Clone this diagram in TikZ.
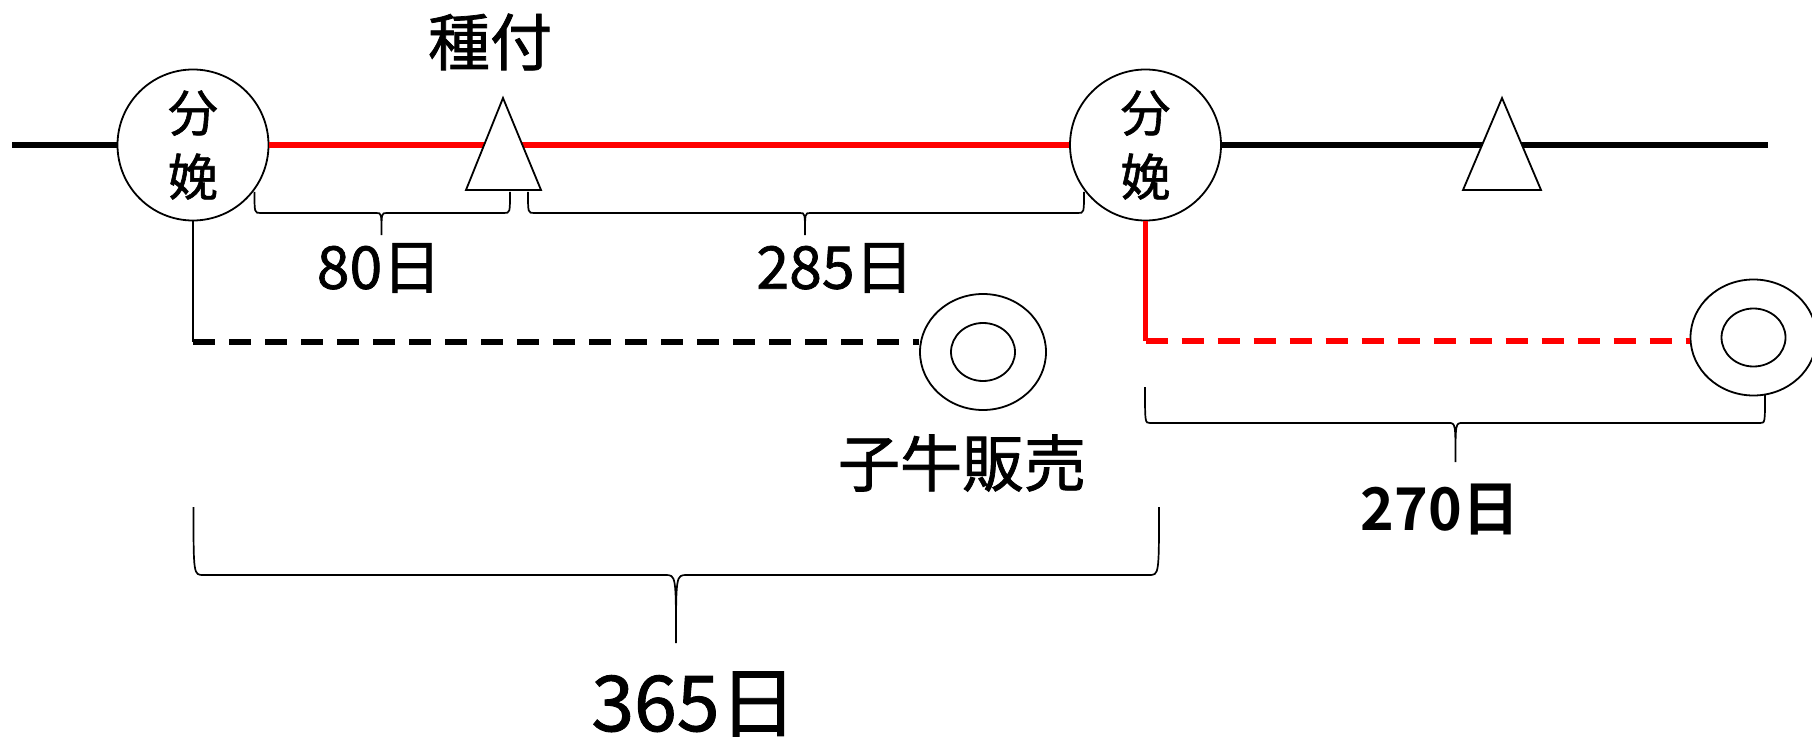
\documentclass[tikz,border=0pt]{standalone}
\usepackage{fontspec}
\newfontfamily\cjk{Noto Sans CJK JP}[FakeBold=1.2]
\newfontfamily\cjkbold{Noto Sans CJK JP Bold}
\usetikzlibrary{shapes.geometric}
\newcommand\mybrace[9]{%
  \draw[bracel] (#1,#2) .. controls (#1,#5) and (#1,#5) .. (#1+#8,#5)
    -- (#6-#9,#5) .. controls (#6,#5) and (#6,#5) .. (#6,#7)
    .. controls (#6,#5) and (#6,#5) .. (#6+#9,#5)
    -- (#3-#8,#5) .. controls (#3,#5) and (#3,#5) .. (#3,#4);}
\tikzset{
  birth/.style={circle, draw, line width=1.8pt, fill=white, minimum size=151pt, inner sep=0pt, align=center, font=\cjk\fontsize{50}{64}\selectfont},
  calfout/.style={ellipse, draw, line width=1.8pt, fill=white, minimum width=126pt, minimum height=116pt, inner sep=0pt},
  calfin/.style={ellipse, draw, line width=1.8pt, minimum width=64pt, minimum height=58pt, inner sep=0pt},
  mainline/.style={line width=5.5pt},
  redline/.style={mainline, draw=red},
  thinline/.style={line width=1.7pt},
  dashline/.style={line width=5.5pt, dash pattern=on 22pt off 14pt},
  tri/.style={draw, line width=1.8pt, fill=white, line join=miter},
  bracel/.style={line width=1.7pt},
  lbl/.style={inner sep=0pt, font=\cjk\fontsize{62}{64}\selectfont},
  numlbl/.style={inner sep=0pt, font=\cjk\fontsize{59}{60}\selectfont},
  boldlbl/.style={inner sep=0pt, font=\cjkbold\fontsize{59}{60}\selectfont},
  biglbl/.style={inner sep=0pt, font=\cjk\fontsize{77}{80}\selectfont},
}
\begin{document}
\begin{tikzpicture}[x=1pt,y=-1pt]
\useasboundingbox (0,0) rectangle (1812,738);
\clip (0,0) rectangle (1812,738);
% birth circles
\node[birth] (c1) at (193,145) {分\\娩};
\node[birth] (c2) at (1145.5,145) {分\\娩};
% end points / joins
\coordinate (l0) at (12,145);
\coordinate (r0) at (1768,145);
\coordinate (jl) at (193,342);
\coordinate (jr) at (1145.5,341);
% calf sale circles
\node[calfout] (s1) at (983,352) {};
\node[calfin] (s1i) at (983,352) {};
\node[calfout] (s2) at (1753.5,337.5) {};
\node[calfin] (s2i) at (1753.5,337.5) {};
% main timeline
\draw[mainline] (l0) -- (c1.west);
\draw[redline] (c1.east) -- (c2.west);
\draw[mainline] (c2.east) -- (r0);
% triangles (mating)
\coordinate (t1a) at (503,98); \coordinate (t1b) at (466,190); \coordinate (t1c) at (541,190);
\coordinate (t2a) at (1502,98); \coordinate (t2b) at (1463,190); \coordinate (t2c) at (1541,190);
\path[tri] (t1a) -- (t1b) -- (t1c) -- cycle;
\path[tri] (t2a) -- (t2b) -- (t2c) -- cycle;
% calf lines
\draw[thinline] (c1.south) -- (jl);
\draw[dashline] (jl) -- (jl -| s1.west);
\draw[line width=5pt, red] (c2.south) -- (jr);
\draw[dashline, red] (jr) -- (jr -| s2.west);
% braces
\mybrace{254.5}{192}{510}{192}{213}{381.5}{235}{6}{5}
\mybrace{528}{192}{1084}{192}{213}{805}{235}{6}{5}
\mybrace{1145}{387}{1765}{395}{423}{1455.5}{462}{5}{7}
\mybrace{193.5}{507}{1159}{507}{575}{676}{643}{10}{11}
% labels
\node[lbl] (tane) at (490,42) {種付};
\node[numlbl] (d80) at (379,268) {80日};
\node[numlbl] (d285) at (835,268) {285日};
\node[boldlbl] (d270) at (1440,510) {\scalebox{0.97}[1]{270日}};
\node[lbl] (sale) at (962,463) {子牛販売};
\node[biglbl] (d365) at (694,704) {365日};
\end{tikzpicture}
\end{document}
